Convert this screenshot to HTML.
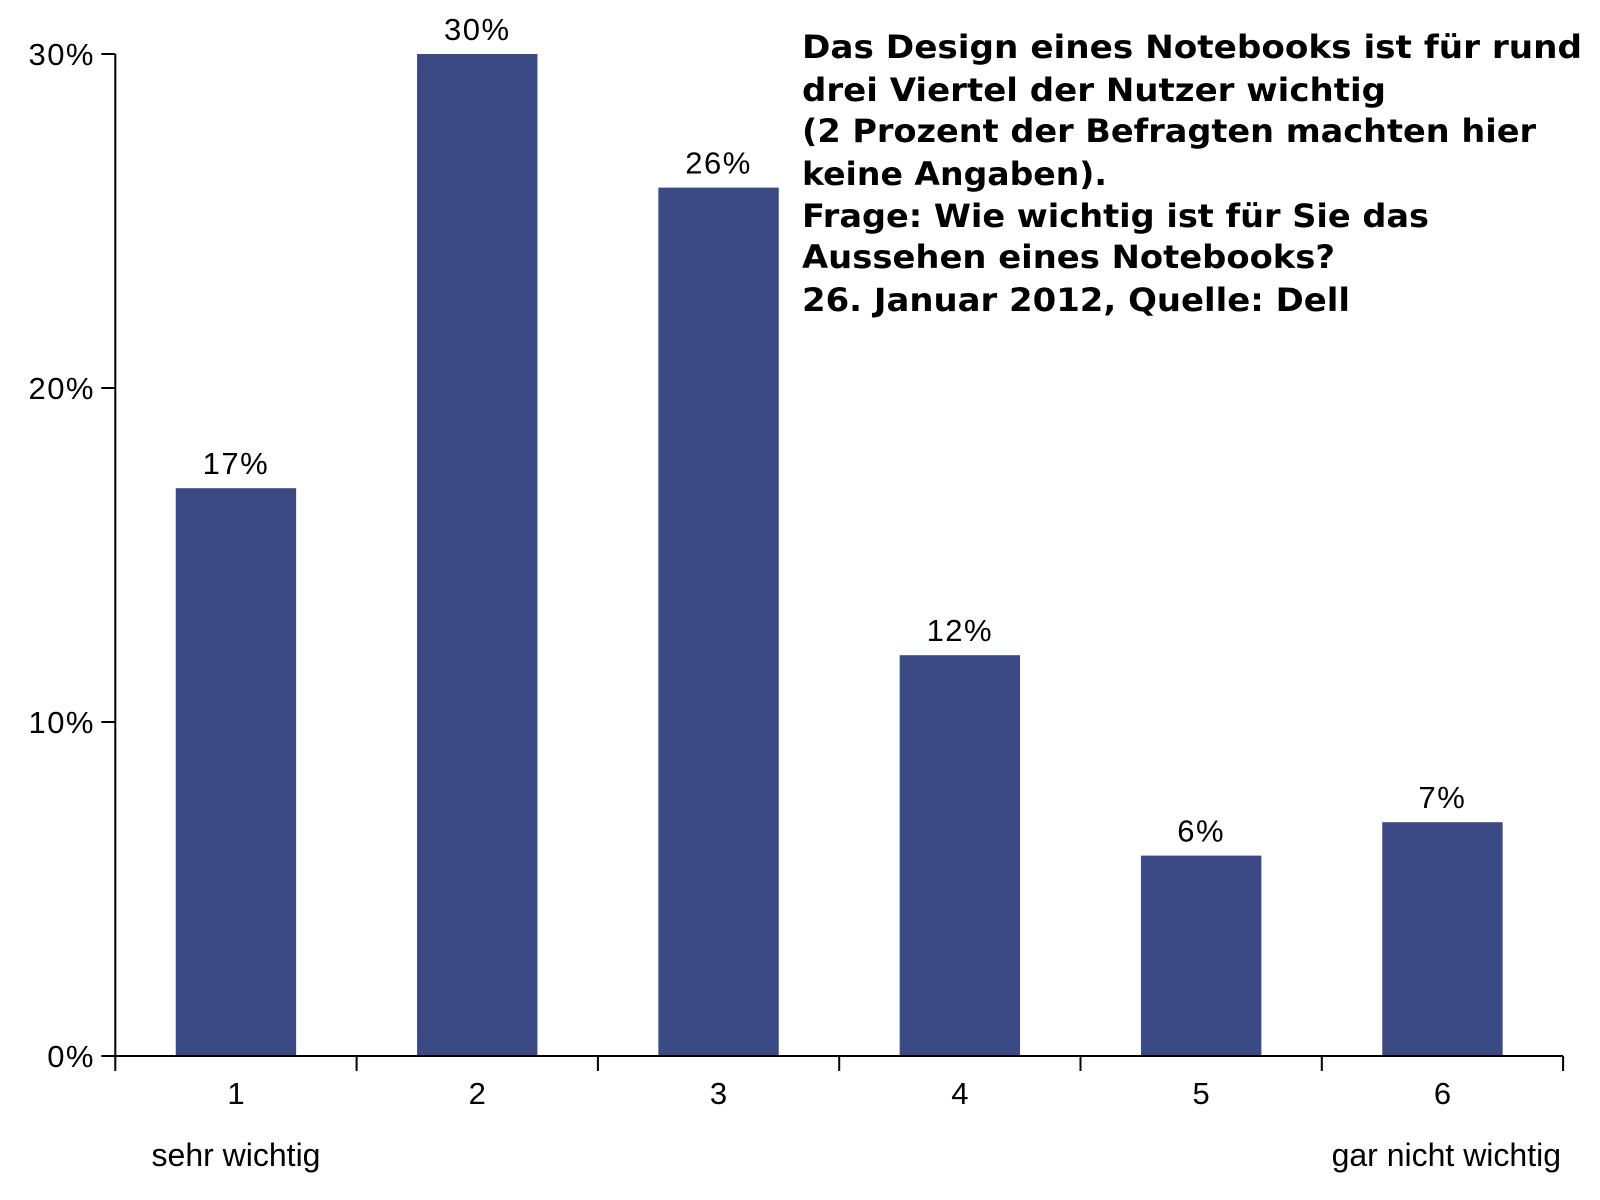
<!DOCTYPE html>
<html><head><meta charset="utf-8"><style>body{margin:0;background:#fff}svg{display:block}</style></head>
<body>
<svg id="chart" width="1600" height="1200" xmlns="http://www.w3.org/2000/svg" font-family="Liberation Sans, Helvetica, sans-serif"></svg>
<script>
const categories = ["1","2","3","4","5","6"];
const values = [17,30,26,12,6,7];
const valueLabels = ["17%","30%","26%","12%","6%","7%"];
const yTicks = [0,10,20,30];
const yTickLabels = ["0%","10%","20%","30%"];

const NS="http://www.w3.org/2000/svg";
const svg=document.getElementById('chart');
const x0=115.3, band=241.3, barW=120.4, y0=1056, yTop=54, yMax=30;
const yScale=v=>y0-(y0-yTop)*v/yMax;
const xBand=i=>x0+i*band;
function mk(tag,attrs,parent){const e=document.createElementNS(NS,tag);for(const k in attrs)e.setAttribute(k,attrs[k]);(parent||svg).appendChild(e);return e;}

const bars=mk('g',{});


values.forEach((v,i)=>{
  const cx=xBand(i)+band/2;
  const r=mk('rect',{x:cx-barW/2,y:yScale(v),width:barW,height:y0-yScale(v),fill:'#3c4a84'},bars);
  
  
  const t=mk('text',{x:cx,y:yScale(v)-14,'text-anchor':'middle','font-size':31,'letter-spacing':1.5,fill:'#000'},bars);
  t.textContent=valueLabels[i];
  
  
});

const yAxis=mk('g',{});


mk('line',{x1:x0,y1:yTop,x2:x0,y2:y0,stroke:'#000','stroke-width':2},yAxis);
yTicks.forEach((v,i)=>{
  const y=yScale(v);
  mk('line',{x1:x0-14,y1:y,x2:x0,y2:y,stroke:'#000','stroke-width':2},yAxis);
  const t=mk('text',{x:95,y:y+11,'text-anchor':'end','font-size':31,'letter-spacing':1.5},yAxis);
  t.textContent=yTickLabels[i];
  
  
});

const xAxis=mk('g',{});


mk('line',{x1:x0,y1:y0,x2:xBand(categories.length),y2:y0,stroke:'#000','stroke-width':2},xAxis);
for(let i=0;i<=categories.length;i++){
  mk('line',{x1:xBand(i),y1:y0,x2:xBand(i),y2:y0+15,stroke:'#000','stroke-width':2},xAxis);
}
categories.forEach((c,i)=>{
  const t=mk('text',{x:xBand(i)+band/2,y:1104,'text-anchor':'middle','font-size':31},xAxis);
  t.textContent=c;
  
  
});
</script>
<svg style="position:absolute;left:0;top:0" width="1600" height="1200" xmlns="http://www.w3.org/2000/svg" font-family="Liberation Sans, Helvetica, sans-serif">
<text x="236" y="1166" text-anchor="middle" font-size="32">sehr wichtig</text>
<text x="1561" y="1166" text-anchor="end" font-size="32">gar nicht wichtig</text>
<g font-family="DejaVu Sans, sans-serif" font-weight="bold" font-size="32">
<text x="802" y="58" textLength="780" lengthAdjust="spacingAndGlyphs">Das Design eines Notebooks ist für rund</text>
<text x="802" y="101" textLength="584" lengthAdjust="spacingAndGlyphs">drei Viertel der Nutzer wichtig</text>
<text x="802" y="142" textLength="734" lengthAdjust="spacingAndGlyphs">(2 Prozent der Befragten machten hier</text>
<text x="802" y="185" textLength="305" lengthAdjust="spacingAndGlyphs">keine Angaben).</text>
<text x="802" y="227" textLength="627" lengthAdjust="spacingAndGlyphs">Frage: Wie wichtig ist für Sie das</text>
<text x="802" y="268" textLength="533" lengthAdjust="spacingAndGlyphs">Aussehen eines Notebooks?</text>
<text x="802" y="311" textLength="548" lengthAdjust="spacingAndGlyphs">26. Januar 2012, Quelle: Dell</text>
</g>
</svg>
</body></html>
